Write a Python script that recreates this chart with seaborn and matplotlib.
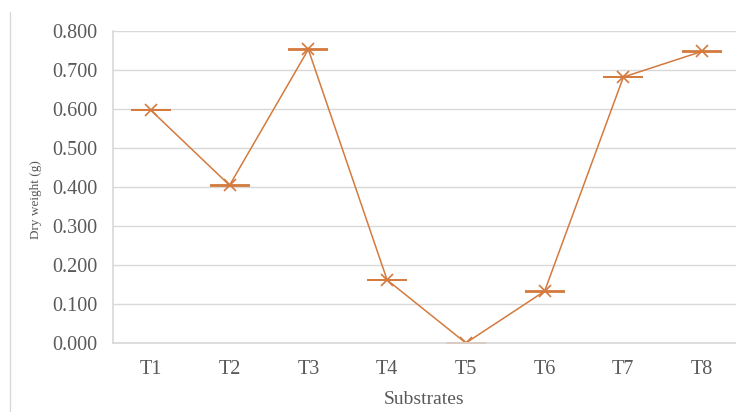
import matplotlib
matplotlib.use("Agg")
import matplotlib.pyplot as plt
import seaborn as sns
import pandas as pd
from matplotlib.lines import Line2D

substrates = ["T1", "T2", "T3", "T4", "T5", "T6", "T7", "T8"]
dry_weight = [0.598, 0.405, 0.754, 0.162, 0.000, 0.133, 0.683, 0.749]
std_error = [0.0008, 0.0008, 0.002, 0.0008, 0.0005, 0.001, 0.0008, 0.0008]
y_ticks = [0.0, 0.1, 0.2, 0.3, 0.4, 0.5, 0.6, 0.7, 0.8]

df = pd.DataFrame({"Substrates": substrates, "Dry weight": dry_weight, "se": std_error})

sns.set_theme(style="white")
plt.rcParams["font.family"] = ["Liberation Serif", "DejaVu Serif"]

line_color = "#D47A3E"
text_color = "#595959"

fig = plt.figure(figsize=(7.36, 4.12), dpi=100)
ax = fig.add_axes([113 / 736, 1 - 343 / 412, (736 - 113) / 736, (343 - 31.5) / 412])

sns.lineplot(data=df, x="Substrates", y="Dry weight", ax=ax, color=line_color,
             linewidth=1.1, marker="x", markersize=8, markeredgewidth=1.2,
             markeredgecolor=line_color, sort=False)
eb = ax.errorbar(range(len(substrates)), dry_weight, yerr=std_error, fmt="none",
                 ecolor=line_color, elinewidth=1.1, capsize=14.5, capthick=1.3)
for artist in eb.lines[1]:
    artist.set_clip_on(False)

ax.set_ylim(0, 0.8)
ax.set_xlim(-0.48, 7.43)
ax.set_yticks(y_ticks)
ax.set_yticklabels([f"{v:.3f}" for v in y_ticks])
ax.grid(axis="y", color="#D9D9D9", linewidth=1)
ax.set_axisbelow(True)
for side in ["top", "right"]:
    ax.spines[side].set_visible(False)
ax.spines["left"].set_color("#D9D9D9")
ax.spines["bottom"].set_color("#D9D9D9")
ax.tick_params(axis="y", length=0, labelsize=14.5, colors=text_color, pad=11)
ax.tick_params(axis="x", length=0, labelsize=14.5, colors=text_color, pad=12)

ax.set_xlabel("Substrates", fontsize=14, color=text_color, labelpad=9)
ax.set_ylabel("")
fig.text(36 / 736, 1 - 200 / 412, "Dry weight (g)", rotation=90, ha="center",
         va="center", fontsize=9.5, color=text_color)

# outer chart border on the left
fig.add_artist(Line2D([10 / 736, 10 / 736], [0, 1 - 12 / 412],
                      transform=fig.transFigure, color="#D9D9D9", linewidth=1))

fig.savefig("out.png", dpi=100)
